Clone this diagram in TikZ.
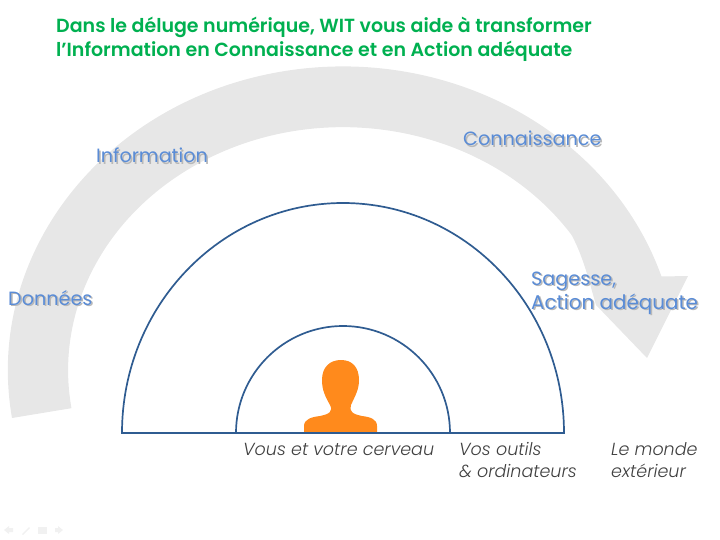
\documentclass[tikz,border=0pt]{standalone}
\usepackage{fontspec}
\setmainfont{Poppins}
\newfontfamily\lightfont{Poppins Light}[ItalicFont={Poppins Light Italic}]
\newfontfamily\titlefont{Poppins SemiBold}
\usepackage{tikz}
\definecolor{titlegreen}{HTML}{00B050}
\definecolor{flowgray}{HTML}{E7E7E7}
\definecolor{arcblue}{HTML}{2F5C91}
\definecolor{stepblue}{HTML}{5A8CD6}
\definecolor{personorange}{HTML}{FF8A1C}
\definecolor{navgray}{HTML}{F1F1F1}
\newcommand{\softshadow}[1]{\leavevmode\rlap{\kern1.5pt\raisebox{-1.5pt}{\textcolor{black!28}{#1}}}#1}
\tikzset{
    titletext/.style={anchor=base west,inner sep=0pt,text=titlegreen,font=\fontsize{19}{19}\selectfont\titlefont},
    steptext/.style={anchor=base west,inner sep=0pt,text=stepblue,font=\fontsize{19.2}{19.2}\selectfont},
    zonetext/.style={anchor=base west,inner sep=0pt,text=black!75,font=\fontsize{17.5}{17.5}\selectfont\lightfont\itshape},
    zonearc/.style={draw=arcblue,line width=1.7pt}
}
\begin{document}
\begin{tikzpicture}[x=1pt,y=-1pt]
    \useasboundingbox (0,0) rectangle (720,540);

    % the big grey arrow
    \fill[flowgray] (12,418) arc[start angle=171,end angle=342,x radius=335,y radius=304]
        -- (688,276) -- (647,358) -- (596,305) .. controls (590,285) and (584,258) .. (571.6,235)
        arc[start angle=326.2,end angle=171,x radius=275,y radius=243] -- cycle;

    % person
    \fill[personorange] (304,433) -- (304,426) .. controls (304,419) and (312,417) .. (320,416)
        .. controls (330,414) and (333,411) .. (330,405)
        .. controls (325,396) and (322,390) .. (322,380)
        .. controls (322,367) and (330,360) .. (341,360)
        .. controls (352,360) and (359,367) .. (359,380)
        .. controls (359,390) and (355,396) .. (351,405)
        .. controls (349,411) and (352,414) .. (362,416)
        .. controls (370,417) and (377,419) .. (377,426) -- (377,433) -- cycle;

    % half circles on the base line
    \coordinate (big west) at (122,433);
    \coordinate (small west) at (236,433);
    \draw[zonearc] (big west) arc[start angle=180,end angle=360,x radius=221,y radius=230] -- cycle;
    \draw[zonearc] (small west) arc[start angle=180,end angle=360,x radius=107,y radius=107];

    \node[titletext] (title a) at (56,33) {Dans le déluge numérique, WIT vous aide à transformer};
    \node[titletext] (title b) at (56,57) {l’Information en Connaissance et en Action adéquate};

    \node[steptext] (donnees) at (8,305) {\softshadow{Données}};
    \node[steptext] (information) at (96,163) {\softshadow{Information}};
    \node[steptext] (connaissance) at (463,146) {\softshadow{Connaissance}};
    \node[steptext] (sagesse) at (531,285) {\softshadow{Sagesse,}};
    \node[steptext,font=\fontsize{19.9}{19.9}\selectfont] (action) at (531,309) {\softshadow{Action adéquate}};

    \node[zonetext] (cerveau) at (243,455) {Vous et votre cerveau};
    \node[zonetext] (outils) at (459,455) {Vos outils};
    \node[zonetext] (ordinateurs) at (459,477) {\& ordinateurs};
    \node[zonetext] (monde) at (611,455) {Le monde};
    \node[zonetext] (exterieur) at (611,477) {extérieur};

    % slide buttons
    \fill[navgray] (4,530) -- (9,526) -- (9,528) -- (13,528) -- (13,532) -- (9,532) -- (9,534) -- cycle;
    \fill[navgray] (22,534) -- (29,527) -- (30,528) -- (23,535) -- cycle;
    \fill[navgray] (38,527) rectangle (47,534);
    \fill[navgray] (63,530) -- (58,526) -- (58,528) -- (55,528) -- (55,532) -- (58,532) -- (58,534) -- cycle;
\end{tikzpicture}
\end{document}
